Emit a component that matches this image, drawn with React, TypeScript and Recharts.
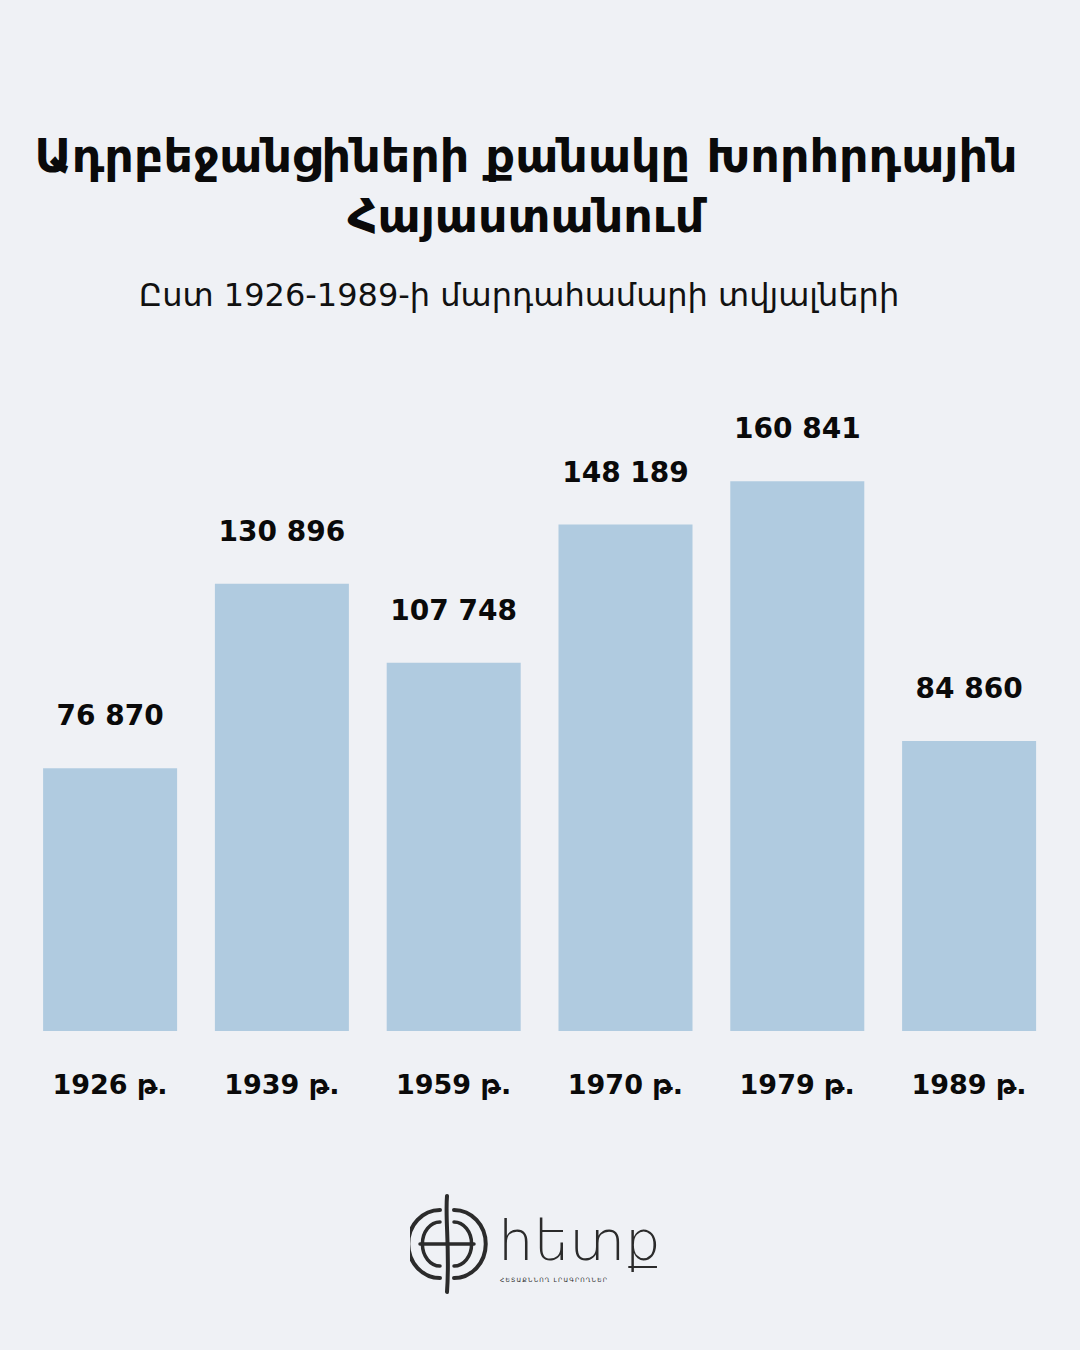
import React from "react";
import { Bar, BarChart, LabelList, XAxis, YAxis } from "recharts";

const years = ["1926 թ.", "1939 թ.", "1959 թ.", "1970 թ.", "1979 թ.", "1989 թ."];
const population = [76870, 130896, 107748, 148189, 160841, 84860];

const title1 = "Ադրբեջանցիների քանակը Խորհրդային";
const title2 = "Հայաստանում";
const subtitle = "Ըստ 1926-1989-ի մարդահամարի տվյալների";

const data = years.map((year, i) => ({ year, value: population[i] }));

const FONT = "'DejaVu Sans', 'Noto Sans', sans-serif";
const BG = "#eff1f5";
const BAR = "#b0cbe0";

const fmt = (v: number) => String(v).replace(/\B(?=(\d{3})+(?!\d))/g, " ");

function YearTick(props: any) {
  const { x, y, payload } = props;
  return (
    <text
      x={x}
      y={y + 55}
      textAnchor="middle"
      fontFamily={FONT}
      fontWeight={700}
      fontSize={27}
      fill="#0a0a0a"
    >
      {payload.value}
    </text>
  );
}

function Logo() {
  return (
    <svg
      width={300}
      height={110}
      style={{ position: "absolute", left: 410, top: 1190 }}
      viewBox="0 0 300 110"
    >
      <g fill="none" stroke="#2b2b2b" strokeLinecap="round">
        <path d="M 30 20 A 28 30 0 0 0 30 88" strokeWidth={4} />
        <path d="M 44 20 A 28 30 0 0 1 44 88" strokeWidth={4} />
        <path d="M 30 32 A 16 20 0 0 0 30 76" strokeWidth={3.5} />
        <path d="M 44 32 A 16 20 0 0 1 44 76" strokeWidth={3.5} />
        <path d="M 10 54 L 64 54" strokeWidth={3.5} />
        <path d="M 37 6 C 35 30 40 60 37 102" strokeWidth={4} />
      </g>
      <text
        x={88}
        y={70}
        fontFamily={FONT}
        fontWeight={200}
        fontSize={56}
        fill="#2b2b2b"
      >
        հետք
      </text>
      <text
        x={90}
        y={92}
        fontFamily={FONT}
        fontSize={6}
        letterSpacing={1.2}
        fill="#2b2b2b"
      >
        ՀԵՏԱՔՆՆՈՂ ԼՐԱԳՐՈՂՆԵՐ
      </text>
    </svg>
  );
}

export default function App() {
  return (
    <div
      style={{
        position: "absolute",
        left: 0,
        top: 0,
        width: 1080,
        height: 1350,
        background: BG,
        fontFamily: FONT,
        overflow: "hidden",
      }}
    >
      <div
        style={{
          position: "absolute",
          left: 0,
          width: 1052,
          top: 126,
          textAlign: "center",
          fontWeight: 700,
          fontSize: 46,
          lineHeight: "60px",
          color: "#0a0a0a",
        }}
      >
        <div>{title1}</div>
        <div>{title2}</div>
      </div>
      <div
        style={{
          position: "absolute",
          left: 0,
          width: 1038,
          top: 276,
          textAlign: "center",
          fontSize: 32,
          color: "#111",
        }}
      >
        {subtitle}
      </div>
      <div style={{ position: "absolute", left: 0, top: 0 }}>
        <BarChart
          width={1080}
          height={1350}
          data={data}
          margin={{ top: 450, right: 25.1, bottom: 259, left: 24.1 }}
        >
          <XAxis
            dataKey="year"
            axisLine={false}
            tickLine={false}
            height={60}
            interval={0}
            tick={<YearTick />}
          />
          <YAxis hide domain={[0, 170000]} />
          <Bar dataKey="value" fill={BAR} barSize={134} isAnimationActive={false}>
            <LabelList
              dataKey="value"
              position="top"
              offset={43}
              formatter={(v: any) => fmt(Number(v))}
              fontFamily={FONT}
              fontWeight={700}
              fontSize={28}
              fill="#0a0a0a"
            />
          </Bar>
        </BarChart>
      </div>
      <Logo />
    </div>
  );
}
